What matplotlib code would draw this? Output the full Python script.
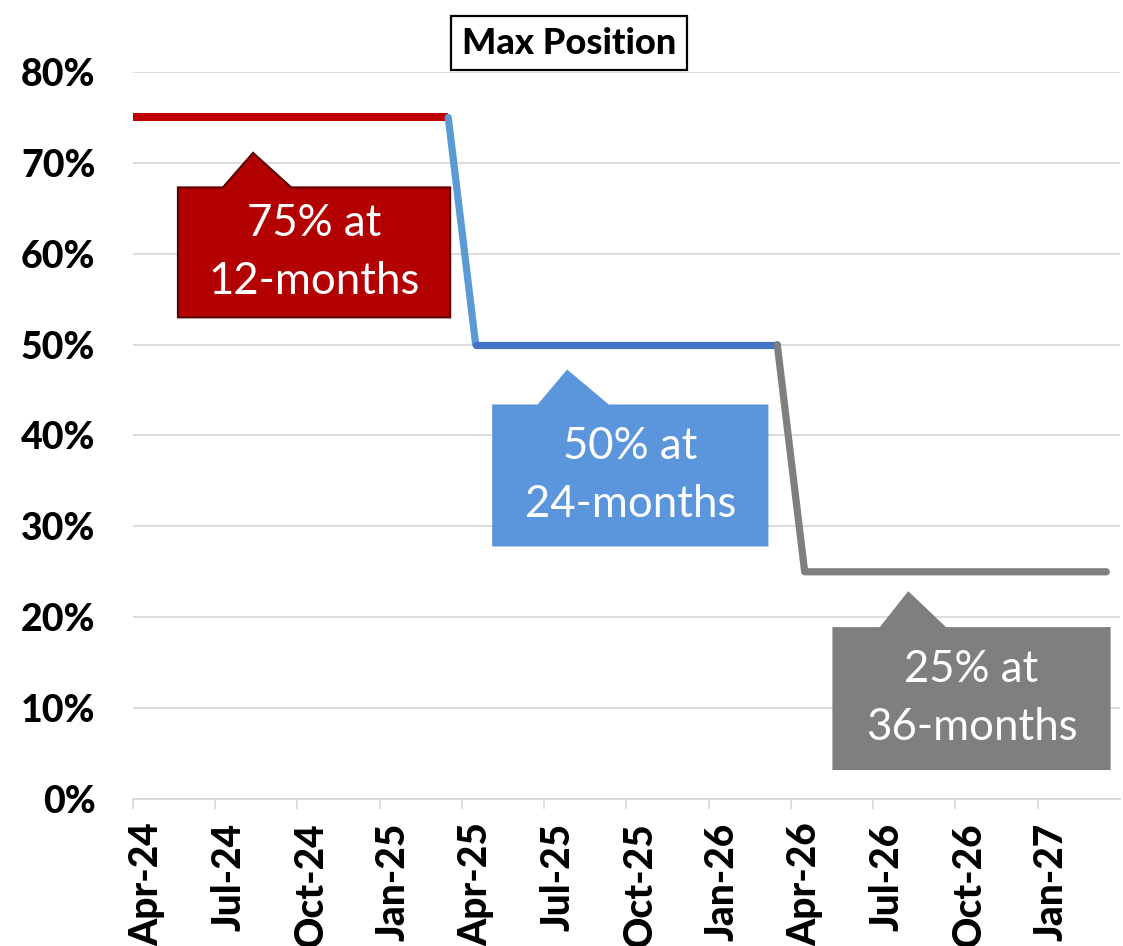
import matplotlib.pyplot as plt
from matplotlib.patches import Polygon

# monthly points, Apr-24 .. Mar-27 (plotted mid-month, Excel date-axis style)
months = ['Apr-24', 'May-24', 'Jun-24', 'Jul-24', 'Aug-24', 'Sep-24', 'Oct-24', 'Nov-24',
          'Dec-24', 'Jan-25', 'Feb-25', 'Mar-25', 'Apr-25', 'May-25', 'Jun-25', 'Jul-25',
          'Aug-25', 'Sep-25', 'Oct-25', 'Nov-25', 'Dec-25', 'Jan-26', 'Feb-26', 'Mar-26',
          'Apr-26', 'May-26', 'Jun-26', 'Jul-26', 'Aug-26', 'Sep-26', 'Oct-26', 'Nov-26',
          'Dec-26', 'Jan-27', 'Feb-27', 'Mar-27']
max_position = [0.75] * 12 + [0.50] * 12 + [0.25] * 12
tick_labels = months[::3]

plt.rcParams['font.family'] = ['Lato', 'DejaVu Sans']

x = [i + 0.5 for i in range(len(months))]

fig = plt.figure(figsize=(11.23, 9.46), dpi=100)
ax = fig.add_axes([0.1184, 0.1554, 0.8789, 0.7685])

# red: first 12 months (series starts at the axis edge)
ax.plot([0] + x[1:12], max_position[:12], color='#C00000', lw=5.8, solid_capstyle='butt', zorder=3)
# blue: drop + flat
ax.plot(x[11:13], max_position[11:13], color='#5B9BD5', lw=5.2, solid_capstyle='round', zorder=3)
ax.plot(x[12:24], max_position[12:24], color='#4472C4', lw=5.2, solid_capstyle='round', zorder=3)
# grey: drop + flat
ax.plot(x[23:36], max_position[23:36], color='#7F7F7F', lw=5.2, solid_capstyle='round',
        solid_joinstyle='round', zorder=3)

ax.set_xlim(0, 36)
ax.set_ylim(0, 0.8)
ax.set_yticks([i / 10 for i in range(9)])
ax.set_yticklabels([f'{i * 10}%' for i in range(9)], fontsize=27, fontweight='black')
# labels sit mid-month, tick marks at month boundaries
ax.set_xticks(x[::3])
ax.set_xticklabels(tick_labels, rotation=90, fontsize=28, fontweight='black')
ax.set_xticks(range(0, 36, 3), minor=True)
ax.tick_params(axis='y', length=0, pad=27)
ax.tick_params(axis='x', which='major', length=0, pad=17)
ax.tick_params(axis='x', which='minor', length=7, width=1.2, color='#D9D9D9')
ax.grid(axis='y', color='#D9D9D9', lw=1.3)
ax.set_axisbelow(True)
for s in ['top', 'right', 'left']:
    ax.spines[s].set_visible(False)
ax.spines['bottom'].set_color('#D9D9D9')
ax.spines['bottom'].set_linewidth(1.3)


def callout(x0, x1, y0, y1, b0, b1, tip, tip_y, face, edge, text):
    pts = [(x0, y0), (x0, y1), (b0, y1), (tip, tip_y), (b1, y1), (x1, y1), (x1, y0)]
    ax.add_patch(Polygon(pts, closed=True, facecolor=face, edgecolor=edge, lw=1.5,
                         zorder=4, clip_on=False))
    ax.text((x0 + x1) / 2, (y0 + y1) / 2, text, color='white', fontsize=31.5,
            ha='center', va='center', linespacing=1.5, zorder=5)


callout(1.64, 11.57, 0.530, 0.673, 3.28, 5.77, 4.38, 0.711, '#B30000', '#5A0000',
        '75% at\n12-months')
callout(13.14, 23.14, 0.279, 0.433, 14.78, 17.34, 15.84, 0.471, '#5B96DC', '#5B96DC',
        '50% at\n24-months')
callout(25.55, 35.62, 0.033, 0.188, 27.26, 29.64, 28.28, 0.227, '#7F7F7F', '#7F7F7F',
        '25% at\n36-months')

fig.text(0.507, 0.9545, 'Max Position', fontsize=26, fontweight='black', ha='center',
         va='center', bbox=dict(boxstyle='square,pad=0.3', facecolor='white',
                                edgecolor='black', lw=1.6))

fig.savefig('out.png', dpi=100)
